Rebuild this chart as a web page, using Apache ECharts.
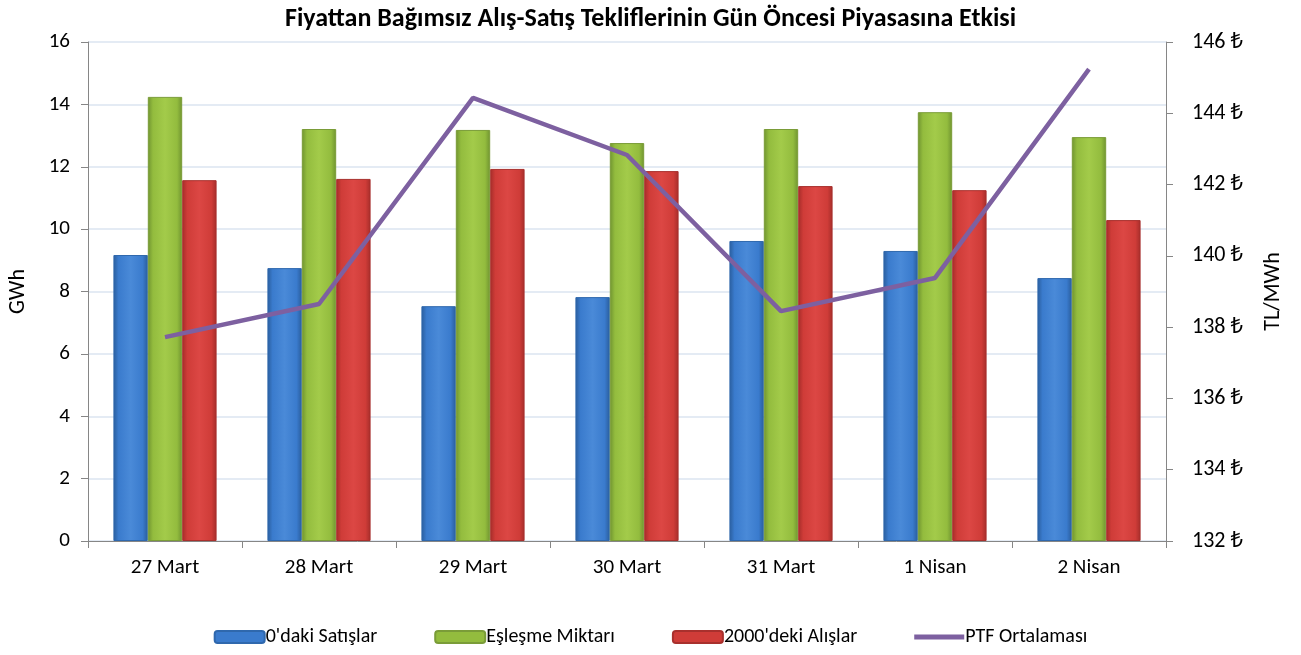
<!DOCTYPE html>
<html><head><meta charset="utf-8">
<script src="https://cdn.jsdelivr.net/npm/echarts@6/dist/echarts.min.js"></script>
<style>html,body{margin:0;padding:0;background:#fff}#c{width:1301px;height:655px}</style>
</head><body><div id="c"></div>
<script>
const categories = ['27 Mart','28 Mart','29 Mart','30 Mart','31 Mart','1 Nisan','2 Nisan'];
const sifirSatis = [9.17, 8.75, 7.53, 7.82, 9.62, 9.30, 8.43];
const eslesme = [14.24, 13.21, 13.18, 12.76, 13.21, 13.75, 12.95];
const alis2000 = [11.57, 11.61, 11.93, 11.86, 11.38, 11.25, 10.29];
const ptf = [137.72, 138.65, 144.43, 142.83, 138.45, 139.38, 145.24];
const seriesNames = ["0'daki Satışlar", 'Eşleşme Miktarı', "2000'deki Alışlar", 'PTF Ortalaması'];

const FONT = 'Carlito, "Open Sans", "Noto Sans", sans-serif';
function grad(dark, mid, light) {
  return new echarts.graphic.LinearGradient(0,0,1,0,[
    {offset:0,color:dark},{offset:0.15,color:mid},{offset:0.5,color:light},{offset:0.85,color:mid},{offset:1,color:dark}
  ]);
}
const blue = grad('#2a5d9c','#3a7bcd','#4a8ad8');
const green = grad('#6f9330','#93bc3e','#a3cb4a');
const red = grad('#a52d2a','#cf3c38','#dc4744');

const chart = echarts.init(document.getElementById('c'));
chart.setOption({
  backgroundColor:'#fff',
  animation:false,
  textStyle:{fontFamily:FONT},
  title:{text:'Fiyattan Bağımsız Alış-Satış Tekliflerinin Gün Öncesi Piyasasına Etkisi',left:'center',top:1,
    textStyle:{fontFamily:FONT,fontSize:26,fontWeight:'bold',color:'#000'}},
  legend:{bottom:3,left:'center',itemGap:57,itemWidth:50,itemHeight:12,
    textStyle:{fontFamily:FONT,fontSize:20,color:'#000',padding:[0,0,0,-4]},
    data:[
      {name:seriesNames[0],itemStyle:{color:'#3a7bcd',borderColor:'#2f68ad'}},
      {name:seriesNames[1],itemStyle:{color:'#93bc3e',borderColor:'#7a9c38'}},
      {name:seriesNames[2],itemStyle:{color:'#cf3c38',borderColor:'#a8302d'}},
      {name:seriesNames[3],icon:'path://M0,0 L50,0 L50,5 L0,5 Z',itemStyle:{color:'#7d60a0'}}
    ]},
  grid:{left:88,right:135,top:42,bottom:114,containLabel:false,outerBoundsMode:'none'},
  xAxis:{type:'category',data:categories,boundaryGap:true,
    axisLine:{lineStyle:{color:'#868686'}},
    axisTick:{show:true,length:7,lineStyle:{color:'#868686'}},
    axisLabel:{fontFamily:FONT,fontSize:21,color:'#000',margin:16}},
  yAxis:[
    {type:'value',min:0,max:16,interval:2,name:'GWh',nameLocation:'middle',nameGap:59,nameRotate:90,
     nameTextStyle:{fontFamily:FONT,fontSize:22,color:'#000'},
     axisLine:{show:true,lineStyle:{color:'#868686'}},
     axisTick:{show:true,length:7,lineStyle:{color:'#868686'}},
     axisLabel:{fontFamily:FONT,fontSize:21,color:'#000',margin:18},
     splitLine:{lineStyle:{color:'#dbe5f1',width:1.5}}},
    {type:'value',min:132,max:146,interval:2,name:'TL/MWh',nameLocation:'middle',nameGap:96,nameRotate:90,
     nameTextStyle:{fontFamily:FONT,fontSize:22,color:'#000'},
     axisLine:{show:true,lineStyle:{color:'#868686'}},
     axisTick:{show:true,length:7,lineStyle:{color:'#868686'}},
     axisLabel:{fontFamily:FONT,fontSize:22,color:'#000',margin:26,formatter:v=>v+' ₺'},
     splitLine:{show:false}}
  ],
  series:[
    {name:seriesNames[0],type:'bar',data:sifirSatis,barGap:'0%',barCategoryGap:'33%',
     itemStyle:{color:blue,borderColor:'#2f68ad',borderWidth:1}},
    {name:seriesNames[1],type:'bar',data:eslesme,
     itemStyle:{color:green,borderColor:'#7a9c38',borderWidth:1}},
    {name:seriesNames[2],type:'bar',data:alis2000,
     itemStyle:{color:red,borderColor:'#a8302d',borderWidth:1}},
    {name:seriesNames[3],type:'line',yAxisIndex:1,data:ptf,symbol:'none',
     lineStyle:{color:'#7d60a0',width:4.5},itemStyle:{color:'#7d60a0'}}
  ]
});
</script></body></html>
